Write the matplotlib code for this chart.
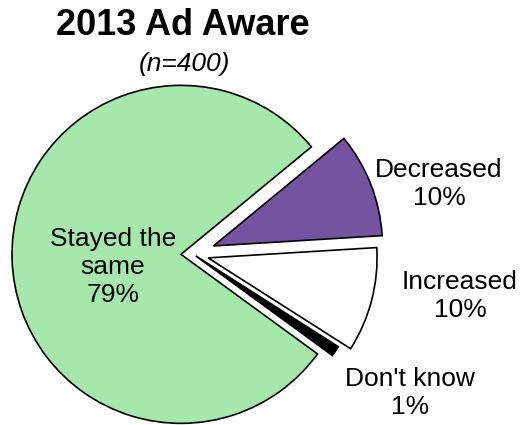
import matplotlib.pyplot as plt

plt.rcParams['font.family'] = ['Liberation Sans', 'DejaVu Sans']

# survey answers, drawn clockwise starting at the top of "Decreased"
categories = ["Decreased", "Increased", "Don't know", "Stayed the\nsame"]
percents = [10, 10, 1, 79]
colors = ["#7453A0", "#FFFFFF", "#000000", "#A6E8AB"]
explode = [0.13, 0.092, 0.02, 0.071]   # fraction of the radius

title = "2013 Ad Aware"
subtitle = "(n=400)"

# label anchor points, in pixel units of the canvas
label_pos = [(439, 241), (460, 129), (410, 32), (113, 158)]

W, H = 520, 425
R = 169
fig = plt.figure(figsize=(W / 100, H / 100), dpi=100)
ax = fig.add_axes([0, 0, 1, 1])

# pie() takes explode in data units, so scale by the radius
ax.pie(percents, colors=colors, explode=[e * R for e in explode],
       startangle=39.5, counterclock=False, radius=R, center=(193, 171),
       wedgeprops=dict(edgecolor="black", linewidth=1.2))

for name, val, (x, y) in zip(categories, percents, label_pos):
    ax.text(x, y, f"{name}\n{val}%", ha="center", va="center",
            fontsize=19, linespacing=1.2)

ax.text(183, 400, title, ha="center", va="center", fontsize=26, fontweight="bold")
ax.text(184, 361, subtitle, ha="center", va="center", fontsize=19, style="italic")

ax.set_xlim(0, W)
ax.set_ylim(0, H)
ax.axis("off")

fig.savefig("out.png", dpi=100)
